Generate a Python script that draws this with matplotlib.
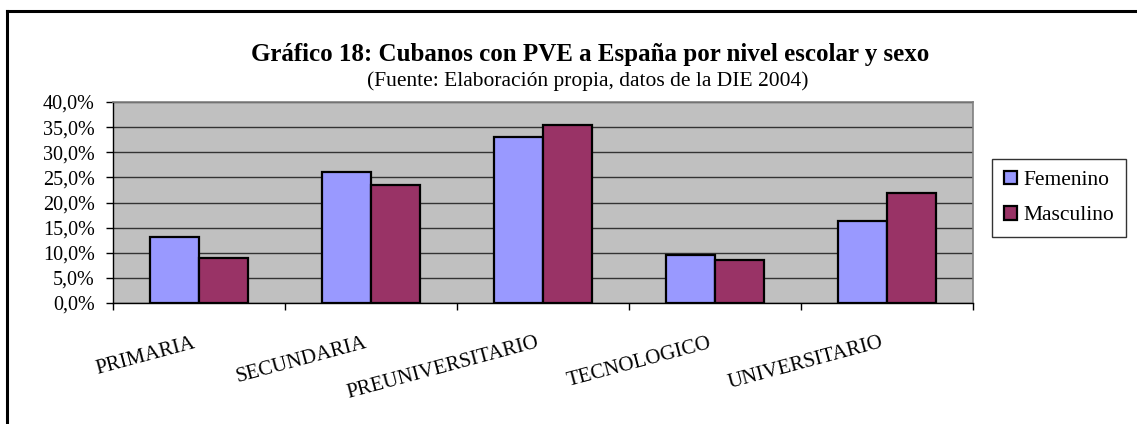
import numpy as np
import matplotlib.pyplot as plt
from matplotlib.lines import Line2D
from matplotlib.patches import Patch
from matplotlib.ticker import FuncFormatter, MultipleLocator

niveles = ['PRIMARIA', 'SECUNDARIA', 'PREUNIVERSITARIO', 'TECNOLOGICO', 'UNIVERSITARIO']
femenino = [13.1, 26.1, 33.1, 9.6, 16.3]
masculino = [9.0, 23.4, 35.5, 8.6, 21.8]

plt.rcParams['font.family'] = 'Liberation Serif'

W, H = 1137, 424
fig = plt.figure(figsize=(W / 100, H / 100), dpi=100)
ax = fig.add_axes([113 / W, 1 - 303 / H, 860 / W, 201 / H])

x = np.arange(len(niveles))
w = 1 / 3.5
ax.bar(x - w / 2, femenino, w, color='#9999FF', edgecolor='black', linewidth=1.6, zorder=3)
ax.bar(x + w / 2, masculino, w, color='#993366', edgecolor='black', linewidth=1.6, zorder=3)

ax.set_facecolor('#C0C0C0')
ax.set_xlim(-0.5, len(niveles) - 0.5)
ax.set_ylim(0, 40)
ax.yaxis.set_major_locator(MultipleLocator(5))
ax.yaxis.set_major_formatter(FuncFormatter(lambda v, p: ('%.1f%%' % v).replace('.', ',')))
ax.grid(axis='y', color='#333333', linewidth=1.0, zorder=1)
ax.set_axisbelow(True)

ax.set_xticks(x - 0.04)
ax.set_xticklabels(niveles, rotation=15, ha='right', va='top', rotation_mode='anchor')
ax.set_xticks(np.arange(-0.5, len(niveles)), minor=True)
ax.tick_params(axis='x', which='major', length=0, pad=22, labelsize=15)
ax.tick_params(axis='x', which='minor', length=5, width=1, direction='out')
ax.tick_params(axis='y', length=5, width=1, direction='out', labelsize=14.5, pad=8)

for s in ['top', 'right']:
    ax.spines[s].set_color('#808080')
    ax.spines[s].set_linewidth(1.2)
for s in ['left', 'bottom']:
    ax.spines[s].set_color('black')
    ax.spines[s].set_linewidth(1.0)

fig.text(590 / W, 1 - 54 / H, u'Gráfico 18: Cubanos con PVE a España por nivel escolar y sexo',
         ha='center', va='center', fontsize=18, fontweight='bold')
fig.text(588 / W, 1 - 81 / H, u'(Fuente: Elaboración propia, datos de la DIE 2004)',
         ha='center', va='center', fontsize=15.5)

handles = [Patch(facecolor='#9999FF', edgecolor='black', linewidth=1.6),
           Patch(facecolor='#993366', edgecolor='black', linewidth=1.6)]
leg = fig.legend(handles, ['Femenino', 'Masculino'], loc='center',
                 bbox_to_anchor=(1059 / W, 1 - 198 / H), fontsize=15.5,
                 frameon=True, fancybox=False, edgecolor='black',
                 handlelength=0.6, handleheight=0.6, handletextpad=0.3,
                 labelspacing=0.75, borderpad=0.55, borderaxespad=0)
leg.get_frame().set_linewidth(1.0)

fig.add_artist(Line2D([7 / W, 1], [1 - 11 / H, 1 - 11 / H], color='black', linewidth=2.2))
fig.add_artist(Line2D([7 / W, 7 / W], [1 - 11 / H, 0], color='black', linewidth=2.2))

fig.savefig('out.png', dpi=100)
